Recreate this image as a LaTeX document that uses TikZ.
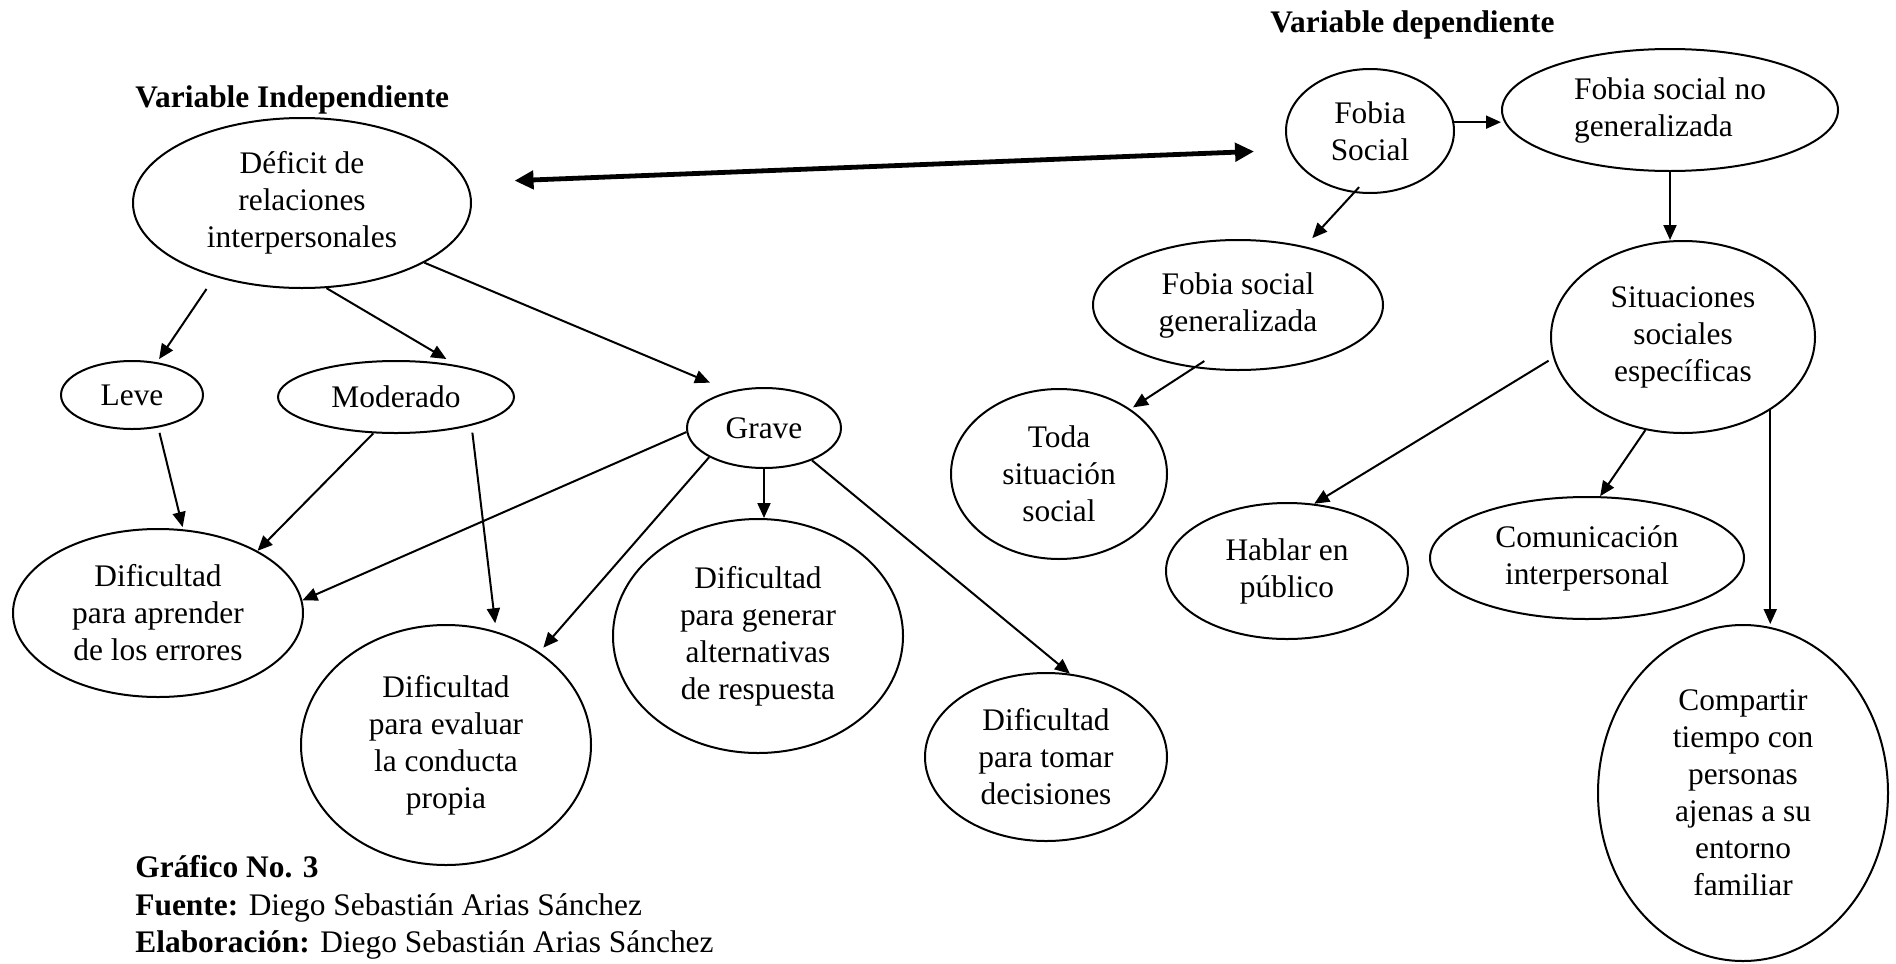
\documentclass[tikz,border=0pt]{standalone}
\usepackage{fontspec}
\setmainfont{Liberation Serif}
\usetikzlibrary{shapes.geometric,arrows.meta,calc}
\newcommand\myfs{\fontsize{15.7pt}{18.5pt}\selectfont}
\begin{document}
\begin{tikzpicture}[x=0.5pt,y=-0.5pt,
  ell/.style 2 args={ellipse, draw, line width=1pt, inner sep=0pt, align=center, font=\myfs, minimum width=#1pt, minimum height=#2pt},
  arr/.style={line width=1pt, -{Triangle[length=7.5pt,width=6.5pt]}},
  big/.style={line width=2.4pt, {Triangle[length=9.5pt,width=9pt]}-{Triangle[length=9.5pt,width=9pt]}},
  ttl/.style={font=\myfs\bfseries, anchor=base west, inner sep=0pt},
  foot/.style={font=\myfs, anchor=base west, inner sep=0pt}]
\useasboundingbox[fill=white] (0,0) rectangle (1896,964);

% titles
\node[ttl] (ti) at (135,107) {Variable Independiente};
\node[ttl] (td) at (1270,32) {Variable dependiente};
\node[ttl] (g) at (135,877) {Gráfico No. 3};
\node[foot] (f1) at (135,915) {\textbf{Fuente:} Diego Sebastián Arias Sánchez};
\node[foot] (f2) at (135,952) {\textbf{Elaboración:} Diego Sebastián Arias Sánchez};

% left side
\node[ell={169}{85}] (def) at (302,203) {Déficit de\\relaciones\\interpersonales};
\node[ell={71}{34}] (leve) at (132,395) {Leve};
\node[ell={118}{36}] (mod) at (396,397) {Moderado};
\node[ell={77}{40}] (grave) at (764,428) {Grave};
\node[ell={145}{84}] (apr) at (158,613) {Dificultad\\para aprender\\de los errores};
\node[ell={145}{120}] (eva) at (446,745) {Dificultad\\para evaluar\\la conducta\\propia};
\node[ell={145}{117}] (gen) at (758,636) {Dificultad\\para generar\\alternativas\\de respuesta};
\node[ell={121}{84}] (tom) at (1046,757) {Dificultad\\para tomar\\decisiones};

% right side
\node[ell={108}{85}] (toda) at (1059,474) {Toda\\situación\\social};
\node[ell={84}{62}] (fs) at (1370,131) {Fobia\\Social};
\node[ell={168}{61}, align=left] (fsng) at (1670,110) {Fobia social no\\generalizada};
\node[ell={145}{65}] (fsg) at (1238,305) {Fobia social\\generalizada};
\node[ell={132}{96}] (sit) at (1683,337) {Situaciones\\sociales\\específicas};
\node[ell={121}{68}] (hab) at (1287,571) {Hablar en\\público};
\node[ell={157}{61}] (com) at (1587,558) {Comunicación\\interpersonal};
\node[ell={145}{168}] (comp) at (1743,793) {Compartir\\tiempo con\\personas\\ajenas a su\\entorno\\familiar};

% connectors
\draw[arr] ($(def)!1.147!(def.-138.2)$) -- ($(leve)!1.093!(leve.53.4)$);
\draw[arr] (def.-74.2) -- ($(mod)!1.11!(mod.37.1)$);
\draw[arr] (def.-26.6) -- ($(grave)!1.305!(grave.140.8)$);
\draw[arr] ($(leve)!1.147!(leve.-54.9)$) -- ($(apr)!1.025!(apr.74.2)$);
\draw[arr] (mod.-122.2) -- (apr.32.2);
\draw[arr] ($(mod)!1.157!(mod.-25.3)$) -- ($(eva)!1.061!(eva.68.4)$);
\draw[arr] (grave.183.7) -- (apr.5.2);
\draw[arr] (grave.208.2) -- ($(eva)!1.045!(eva.45.3)$);
\draw[arr] (grave.south) -- (grave.south |- gen.north);
\draw[arr] (grave.-34.6) -- (tom.74.1);
\draw[big] ($(def)!1.277!(def.6.2)$) -- ($(fs)!1.402!(fs.190.9)$);
\draw[arr] (fs.6.8) -- (fs.6.8 -| fsng.west);
\draw[arr] ($(fs)!0.9!(fs.259.5)$) -- ($(fsg)!1.134!(fsg.42.1)$);
\draw[arr] (fsng.south) -- (fsng.south |- sit.north);
\draw[arr] ($(fsg)!0.88!(fsg.239)$) -- ($(toda)!1.03!(toda.42.1)$);
\draw[arr] ($(sit)!1.04!(sit.190.2)$) -- (hab.68.8);
\draw[arr] (sit.248.2) -- (com.78);
\draw[arr] (sit.-40.5) -- (sit.-40.5 |- comp.north);
\end{tikzpicture}
\end{document}
